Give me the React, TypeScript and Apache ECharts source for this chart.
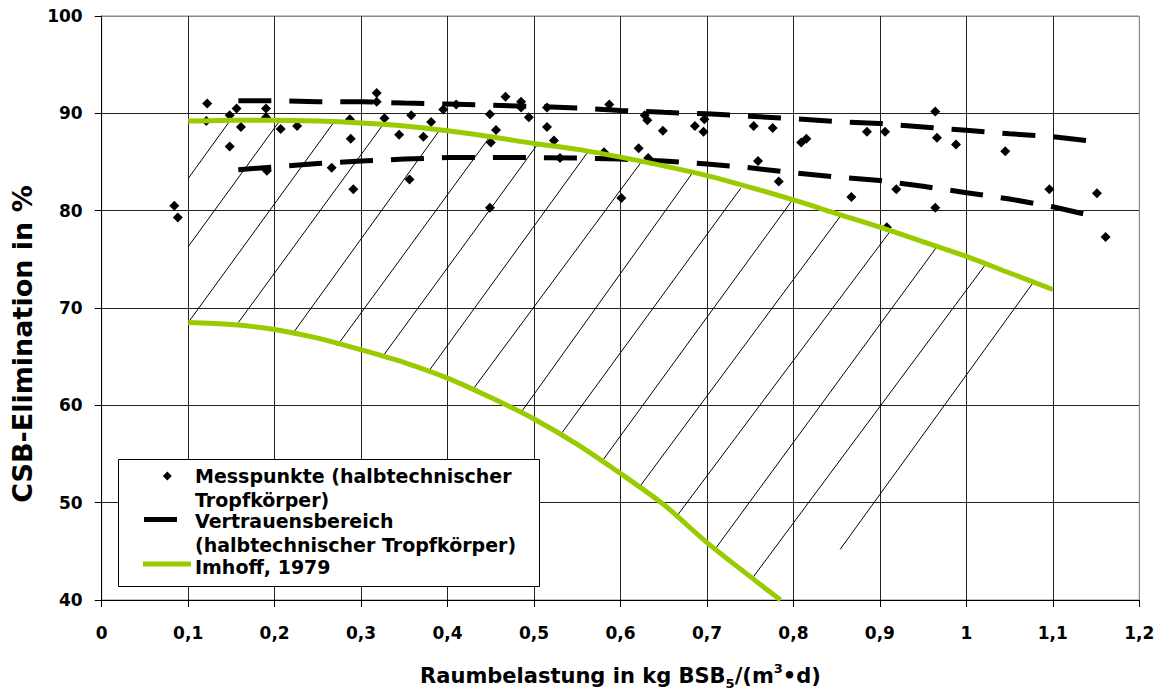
import React, { useEffect, useRef } from "react";
import * as echarts from "echarts";

const FONT = '"DejaVu Sans", "Liberation Sans", sans-serif';

// Messpunkte (halbtechnischer Tropfkörper)
const messX = [
  0.084, 0.088, 0.122, 0.121, 0.148, 0.148, 0.156, 0.161, 0.19, 0.19, 0.191, 0.207, 0.226, 0.266,
  0.287, 0.288, 0.291, 0.318, 0.318, 0.327, 0.344, 0.356, 0.358, 0.372, 0.381, 0.395, 0.41,
  0.449, 0.467, 0.485, 0.485, 0.494, 0.456, 0.45, 0.449, 0.515, 0.515, 0.523, 0.53, 0.587, 0.581,
  0.601, 0.628, 0.631, 0.621, 0.632, 0.649, 0.686, 0.697, 0.696, 0.754, 0.776, 0.759, 0.783,
  0.809, 0.815, 0.867, 0.885, 0.906, 0.919, 0.908, 0.964, 0.966, 0.988, 1.045, 0.964, 1.096,
  1.151, 1.161,
];
const messY = [
  80.5, 79.3, 91.0, 89.2, 89.8, 86.6, 90.5, 88.6, 90.5, 89.6, 84.1, 88.4, 88.7, 84.4,
  89.4, 87.4, 82.2, 92.1, 91.2, 89.5, 87.8, 83.2, 89.8, 87.6, 89.1, 90.4, 90.9,
  89.9, 91.7, 91.2, 90.6, 89.6, 88.3, 87.0, 80.3, 90.6, 88.6, 87.2, 85.4, 90.9, 86.0,
  81.3, 89.8, 89.3, 86.4, 85.4, 88.2, 88.7, 89.4, 88.1, 88.7, 88.5, 85.1, 83.0,
  87.0, 87.4, 81.4, 88.1, 88.1, 82.2, 78.3, 90.2, 87.5, 86.8, 86.1, 80.3, 82.2,
  81.8, 77.3,
];

// Vertrauensbereich (halbtechnischer Tropfkörper)
const bandX = [
  0.158, 0.2, 0.25, 0.3, 0.35, 0.4, 0.45, 0.5, 0.55, 0.6, 0.65, 0.7, 0.75, 0.8, 0.85, 0.9,
  0.95, 1.0, 1.05, 1.1, 1.139,
];
const bandUpper = [
  91.3, 91.3, 91.2, 91.2, 91.05, 90.95, 90.85, 90.7, 90.55, 90.3, 90.1, 89.95, 89.7, 89.45,
  89.15, 88.95, 88.6, 88.25, 87.9, 87.6, 87.2,
];
const bandLower = [
  84.2, 84.5, 84.85, 85.1, 85.3, 85.45, 85.45, 85.45, 85.4, 85.3, 85.1, 84.8, 84.4, 83.9,
  83.45, 83.1, 82.5, 81.85, 81.2, 80.4, 79.6,
];

// Imhoff, 1979
const imhoffUpperX = [
  0.1, 0.15, 0.2, 0.25, 0.3, 0.35, 0.4, 0.45, 0.5, 0.55, 0.6, 0.65, 0.7, 0.75, 0.8, 0.85, 0.9,
  0.95, 1.0, 1.05, 1.1,
];
const imhoffUpperY = [
  89.2, 89.3, 89.3, 89.2, 89.0, 88.7, 88.2, 87.6, 86.9, 86.3, 85.5, 84.6, 83.6, 82.4, 81.1,
  79.7, 78.3, 76.8, 75.3, 73.6, 71.9,
];
const imhoffLowerX = [
  0.1, 0.15, 0.2, 0.25, 0.3, 0.35, 0.4, 0.45, 0.5, 0.55, 0.6, 0.65, 0.7, 0.75, 0.785,
];
const imhoffLowerY = [
  68.5, 68.3, 67.8, 66.9, 65.7, 64.4, 62.8, 60.8, 58.6, 56.0, 53.0, 49.8, 45.9, 42.4, 40.0,
];

// Schraffur (hatching)
const hatchStartX = [0.1, 0.1, 0.1, 0.158, 0.222, 0.272, 0.324, 0.379, 0.429, 0.486, 0.53, 0.579, 0.621, 0.665, 0.71, 0.753, 0.854];
const hatchStartY = [83.3, 76.3, 68.5, 68.5, 67.5, 66.1, 64.9, 63.6, 61.6, 59.4, 56.9, 54.3, 51.5, 48.6, 45.3, 42.3, 45.2];
const hatchEndX = [0.148, 0.206, 0.269, 0.325, 0.391, 0.449, 0.504, 0.562, 0.624, 0.685, 0.739, 0.798, 0.854, 0.912, 0.966, 1.024, 1.078];
const hatchEndY = [89.2, 89.25, 89.15, 88.8, 88.3, 87.6, 86.8, 86.0, 85.0, 84.1, 82.3, 81.0, 79.4, 77.9, 76.3, 74.7, 72.7];

const xMin = 0;
const xMax = 1.2;
const xStep = 0.1;
const yMin = 40;
const yMax = 100;
const yStep = 10;

const GREEN = "#99CC00";

export default function App() {
  const ref = useRef<HTMLDivElement>(null);

  useEffect(() => {
    if (!ref.current) return;
    const chart = echarts.init(ref.current, undefined, { renderer: "svg" });

    const fmt = (v: number) => String(Math.round(v * 10) / 10).replace(".", ",");
    const xLineCount = Math.round((xMax - xMin) / xStep) + 1;
    const yLineCount = Math.round((yMax - yMin) / yStep) + 1;
    const xColors = Array.from({ length: xLineCount }, (_, i) => (i === xLineCount - 1 ? "#888" : "#222"));
    const yColors = Array.from({ length: yLineCount }, (_, i) => (i === yLineCount - 1 ? "#888" : "#222"));

    const tickLabel = {
      fontFamily: FONT,
      fontWeight: "bold" as const,
      fontSize: 17,
      color: "#000",
    };

    const legendText = (text: string, y: number) => ({
      type: "text",
      x: 195,
      y,
      z: 101,
      style: {
        text,
        fontFamily: FONT,
        fontWeight: "bold",
        fontSize: 19,
        fill: "#000",
        align: "left",
        verticalAlign: "middle",
      },
    });

    chart.setOption({
      animation: false,
      backgroundColor: "#fff",
      grid: {
        left: 101.7,
        right: 23.7,
        top: 16,
        bottom: 89.5,
        show: true,
        borderColor: "#888",
        borderWidth: 1,
        backgroundColor: "transparent",
      },
      xAxis: {
        type: "value",
        min: xMin,
        max: xMax,
        interval: xStep,
        axisLine: { show: true, onZero: false, lineStyle: { color: "#000", width: 1 } },
        axisTick: { show: true, length: 7, lineStyle: { color: "#000" } },
        axisLabel: { ...tickLabel, margin: 24, formatter: fmt },
        splitLine: { show: true, lineStyle: { color: xColors, width: 1 } },
        name: "{a|Raumbelastung in kg BSB}{b|5}{a|/(m}{c|3}{a|•d)}",
        nameLocation: "middle",
        nameGap: 62,
        nameTextStyle: {
          rich: {
            a: { fontFamily: FONT, fontWeight: "bold", fontSize: 21, color: "#000", lineHeight: 28, verticalAlign: "middle" },
            b: { fontFamily: FONT, fontWeight: "bold", fontSize: 13, color: "#000", lineHeight: 14, verticalAlign: "bottom" },
            c: { fontFamily: FONT, fontWeight: "bold", fontSize: 13, color: "#000", lineHeight: 14, verticalAlign: "top" },
          },
        },
      },
      yAxis: {
        type: "value",
        min: yMin,
        max: yMax,
        interval: yStep,
        axisLine: { show: true, onZero: false, lineStyle: { color: "#000", width: 1 } },
        axisTick: { show: true, length: 7, lineStyle: { color: "#000" } },
        axisLabel: { ...tickLabel, margin: 19 },
        splitLine: { show: true, lineStyle: { color: yColors, width: 1 } },
      },
      graphic: [
        {
          type: "text",
          x: 22.5,
          y: 344,
          rotation: Math.PI / 2,
          style: {
            text: "CSB-Elimination in %",
            fontFamily: FONT,
            fontWeight: "bold",
            fontSize: 27,
            fill: "#000",
            align: "center",
            verticalAlign: "middle",
          },
        },
        {
          type: "rect",
          z: 100,
          shape: { x: 118.5, y: 459.5, width: 421, height: 127 },
          style: { fill: "#fff", stroke: "#000", lineWidth: 1 },
        },
        {
          type: "polygon",
          z: 101,
          shape: { points: [[167.3, 471.5], [171.8, 476], [167.3, 480.5], [162.8, 476]] },
          style: { fill: "#000" },
        },
        {
          type: "rect",
          z: 101,
          shape: { x: 144, y: 517, width: 33, height: 5 },
          style: { fill: "#000" },
        },
        {
          type: "line",
          z: 101,
          shape: { x1: 143, y1: 564, x2: 191, y2: 564 },
          style: { stroke: GREEN, lineWidth: 5 },
        },
        legendText("Messpunkte (halbtechnischer", 475.8),
        legendText("Tropfkörper)", 500),
        legendText("Vertrauensbereich", 521),
        legendText("(halbtechnischer Tropfkörper)", 545.3),
        legendText("Imhoff, 1979", 566.8),
      ],
      series: [
        {
          name: "Schraffur",
          type: "lines",
          coordinateSystem: "cartesian2d",
          silent: true,
          z: 1,
          lineStyle: { color: "#000", width: 1, opacity: 1 },
          data: hatchStartX.map((x, i) => ({
            coords: [
              [x, hatchStartY[i]],
              [hatchEndX[i], hatchEndY[i]],
            ],
          })),
        },
        {
          name: "Vertrauensbereich oben",
          type: "line",
          z: 2,
          symbol: "none",
          silent: true,
          lineStyle: { color: "#000", width: 5, type: [33, 18], cap: "butt" },
          data: bandX.map((x, i) => [x, bandUpper[i]]),
        },
        {
          name: "Vertrauensbereich unten",
          type: "line",
          z: 2,
          symbol: "none",
          silent: true,
          lineStyle: { color: "#000", width: 5, type: [33, 18], cap: "butt" },
          data: bandX.map((x, i) => [x, bandLower[i]]),
        },
        {
          name: "Messpunkte",
          type: "scatter",
          z: 3,
          symbol: "diamond",
          symbolSize: 10,
          itemStyle: { color: "#000", opacity: 1 },
          data: messX.map((x, i) => [x, messY[i]]),
        },
        {
          name: "Imhoff oben",
          type: "line",
          z: 4,
          symbol: "none",
          smooth: 0.3,
          silent: true,
          lineStyle: { color: GREEN, width: 5 },
          data: imhoffUpperX.map((x, i) => [x, imhoffUpperY[i]]),
        },
        {
          name: "Imhoff unten",
          type: "line",
          z: 4,
          symbol: "none",
          smooth: 0.3,
          silent: true,
          lineStyle: { color: GREEN, width: 5 },
          data: imhoffLowerX.map((x, i) => [x, imhoffLowerY[i]]),
        },
      ],
    });

    return () => chart.dispose();
  }, []);

  return (
    <div
      ref={ref}
      style={{ position: "fixed", left: 0, top: 0, width: 1163, height: 695, background: "#fff" }}
    />
  );
}
